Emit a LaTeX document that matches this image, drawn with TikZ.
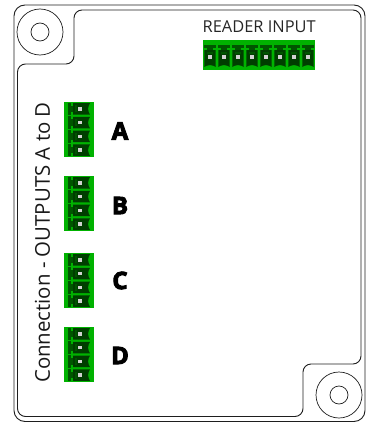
\documentclass[tikz,border=0pt]{standalone}
\usepackage{fontspec}
\setmainfont{Open Sans}
\usetikzlibrary{positioning}
\definecolor{pingreen}{RGB}{0,178,0}
\definecolor{pinmid}{RGB}{0,85,0}
\definecolor{pindark}{RGB}{0,62,0}
\definecolor{linegray}{RGB}{30,30,30}
\tikzset{
	board/.style={draw=linegray,line width=0.9pt},
	block/.style={draw=none,fill=pingreen,inner sep=0pt,anchor=north west},
	hole/.style={draw=linegray,circle,line width=0.7pt},
	letter/.style={font=\fontsize{24}{24}\selectfont\bfseries\addfontfeature{FakeBold=4},text=black},
	pin/.pic={
		\fill[pinmid] (-6.2,-13) rectangle (6.2,-10.2);
		\fill[pinmid] (-3.2,-10.5) rectangle (3.2,-7.5);
		\fill[pindark] (-5.7,-8) -- (5.7,-8) -- (5.7,9) -- (3.5,7.8) .. controls (1.5,6.8) and (-1.5,6.8) .. (-3.5,7.8) -- (-5.7,9) -- cycle;
		\fill[pinmid] (-3.4,-6.5) rectangle (3.4,-4);
		\fill[white!82!black] (-1.8,-2.8) rectangle (1.8,0.8);
	}
}
\begin{document}
\begin{tikzpicture}[x=1pt,y=-1pt]
	\useasboundingbox (0,0) rectangle (370,423);
	% board outline
	\draw[board,rounded corners=11pt] (14,5) rectangle (365,421.5);
	\draw[board,rounded corners=8pt] (17.5,64) -- (74,64) -- (74,10) -- (361,10) -- (361,364) -- (303,364) -- (303,416.5) -- (17.5,416.5) -- cycle;
	\node[hole,minimum size=46pt] (H1) at (40,32) {};
	\node[hole,minimum size=18pt] (H2) at (40,32) {};
	\node[hole,minimum size=46pt] (H3) at (339,395) {};
	\node[hole,minimum size=18pt] (H4) at (339,395) {};
	% reader connector
	\node[block,minimum width=112pt,minimum height=30pt] (R) at (203,40) {};
	\foreach \i in {1,...,8}
		\pic at (203+14*\i-7,58) {pin};
	\node[above=3.5pt of R,font=\fontsize{16.4}{17}\selectfont,text=black!85] (T1) {READER INPUT};
	% outputs
	\foreach \name/\ypos/\ylet in {A/102/131,B/176/205.5,C/253/280.5,D/327/355.5}
	{
		\node[block,minimum width=30pt,minimum height=55pt] (N\name) at (64,\ypos) {};
		\foreach \j in {1,...,4}
			\pic[rotate=90] at (81,\ypos+13.75*\j-6.875) {pin};
		\node[letter] (L\name) at (120,\ylet) {\name};
	}
	\node[rotate=90,font=\fontsize{20.4}{20}\selectfont,text=black!90] (T2) at (42.5,242.5) {Connection - OUTPUTS A to D};
\end{tikzpicture}
\end{document}
